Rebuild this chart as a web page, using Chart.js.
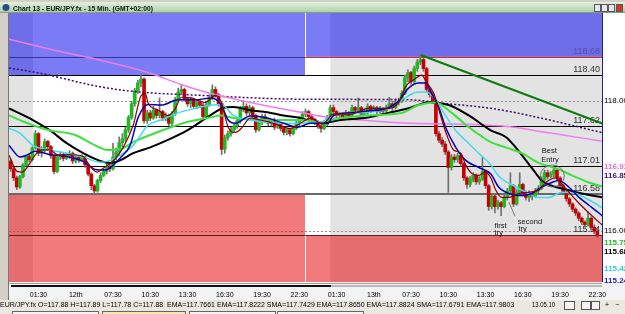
<!DOCTYPE html>
<html>
<head>
<meta charset="utf-8">
<script src="https://cdn.jsdelivr.net/npm/chart.js@4.4.1/dist/chart.umd.min.js"></script>
<style>
  html, body { margin: 0; padding: 0; background: #d4d0c8; }
  canvas { display: block; }
</style>
</head>
<body>
<canvas id="chart" width="625" height="314"></canvas>
<script>
// EUR/JPY.fx 15 min candles, bar 0 = 11th 23:15, bar 189 = 13th 22:30
const opens = [
  117.08,116.96,116.82,116.68,116.84,117.02,117.15,117.10,117.28,117.50,
  117.20,117.25,117.38,117.30,117.16,116.92,117.14,117.18,117.12,117.16,
  117.20,117.08,117.14,117.10,117.14,117.02,116.88,116.70,116.62,116.78,
  116.86,116.92,117.00,116.96,117.14,117.22,117.36,117.42,117.56,117.75,
  117.96,118.16,118.28,118.34,117.70,117.82,117.74,117.86,117.78,117.84,
  117.74,117.78,117.66,117.80,118.02,118.14,118.18,118.04,117.96,118.02,
  117.92,117.98,117.94,117.76,117.94,118.04,118.18,118.10,117.96,117.26,
  117.44,117.50,117.56,117.62,117.70,117.88,117.92,117.82,117.90,117.78,
  117.56,117.68,117.76,117.72,117.66,117.68,117.60,117.64,117.58,117.52,
  117.56,117.50,117.58,117.66,117.72,117.80,117.84,117.76,117.72,117.68,
  117.62,117.58,117.64,117.74,117.90,117.84,117.78,117.80,117.76,117.82,
  117.78,117.90,117.86,117.90,117.80,117.84,117.92,117.86,117.90,117.84,
  117.88,117.85,117.90,117.96,117.90,117.98,118.00,118.12,118.36,118.44,
  118.30,118.50,118.60,118.64,118.50,118.18,118.10,118.00,117.50,117.40,
  117.34,117.22,116.98,117.14,117.10,117.16,117.04,116.82,116.72,116.80,
  116.86,116.76,116.80,116.92,116.70,116.38,116.54,116.38,116.44,116.38,
  116.52,116.62,116.70,116.42,116.60,116.72,116.58,116.52,116.58,116.54,
  116.62,116.66,116.80,116.90,116.84,116.88,116.94,116.82,116.70,116.60,
  116.50,116.42,116.34,116.28,116.20,116.14,116.10,116.20,116.06,116.00
];
const highs = [
  117.12,116.98,116.85,116.86,117.04,117.17,117.18,117.30,117.55,117.52,
  117.30,117.42,117.40,117.32,117.18,117.18,117.22,117.20,117.20,117.24,
  117.22,117.18,117.16,117.18,117.16,117.04,116.90,116.72,116.80,116.90,
  116.96,117.05,117.04,117.35,117.28,117.45,117.50,117.60,117.78,118.00,
  118.20,118.32,118.40,118.36,117.86,117.86,117.92,117.88,118.05,117.86,
  117.82,117.80,117.84,118.06,118.20,118.25,118.20,118.06,118.06,118.04,
  118.02,118.02,117.98,118.00,118.10,118.25,118.22,118.12,117.98,117.48,
  117.54,117.60,117.66,117.74,117.92,118.00,117.96,117.94,117.92,117.80,
  117.70,117.80,117.80,117.74,117.72,117.74,117.68,117.66,117.60,117.58,
  117.58,117.62,117.70,117.76,117.84,117.88,117.86,117.80,117.74,117.70,
  117.64,117.68,117.78,117.94,117.94,117.86,117.82,117.82,117.86,117.84,
  117.94,117.92,118.05,117.92,117.88,117.96,117.94,117.93,117.92,117.92,
  117.90,117.94,118.06,118.00,118.04,118.05,118.16,118.40,118.48,118.46,
  118.54,118.64,118.71,118.66,118.52,118.22,118.14,118.02,117.54,117.44,
  117.38,117.24,117.18,117.18,117.20,117.18,117.06,116.84,116.84,116.90,
  116.88,116.84,117.14,116.94,116.72,116.58,116.58,116.48,116.46,116.56,
  116.66,116.90,116.72,116.64,116.90,116.74,116.62,116.62,116.60,116.66,
  116.70,116.84,116.94,116.94,116.92,116.98,116.96,116.84,116.72,116.62,
  116.52,116.44,116.36,116.30,116.22,116.16,116.30,116.22,116.10,116.04
];
const lows = [
  116.92,116.78,116.64,116.66,116.82,117.00,117.07,117.08,117.26,117.16,
  117.14,117.22,117.24,117.12,116.88,116.90,117.10,117.08,117.10,117.12,
  117.04,117.05,117.06,117.08,116.98,116.85,116.64,116.58,116.60,116.75,
  116.84,116.88,116.92,116.94,117.10,117.18,117.30,117.38,117.52,117.72,
  117.92,118.12,118.22,117.66,117.66,117.70,117.72,117.74,117.74,117.70,
  117.70,117.62,117.60,117.78,118.00,118.10,118.00,117.92,117.90,117.88,
  117.88,117.90,117.72,117.74,117.92,118.02,118.06,117.92,117.18,117.20,
  117.40,117.46,117.52,117.58,117.66,117.84,117.78,117.78,117.74,117.52,
  117.54,117.64,117.68,117.62,117.62,117.56,117.58,117.54,117.48,117.48,
  117.46,117.48,117.56,117.62,117.70,117.76,117.72,117.70,117.64,117.58,
  117.52,117.56,117.62,117.72,117.80,117.74,117.75,117.72,117.74,117.74,
  117.76,117.82,117.84,117.78,117.78,117.80,117.82,117.84,117.80,117.82,
  117.82,117.83,117.88,117.86,117.88,117.94,117.98,118.10,118.30,118.26,
  118.28,118.46,118.56,118.46,118.14,118.06,117.96,117.46,117.36,117.30,
  117.18,116.60,116.94,117.06,117.06,117.00,116.78,116.66,116.68,116.76,
  116.72,116.72,116.78,116.66,116.32,116.34,116.28,116.34,116.24,116.36,
  116.48,116.58,116.38,116.40,116.56,116.54,116.48,116.46,116.48,116.52,
  116.58,116.64,116.78,116.80,116.82,116.84,116.78,116.66,116.56,116.46,
  116.38,116.30,116.24,116.16,116.10,116.06,116.08,116.02,115.96,115.90
];
const closes = [
  116.96,116.82,116.68,116.84,117.02,117.15,117.10,117.28,117.50,117.20,
  117.25,117.38,117.30,117.16,116.92,117.14,117.18,117.12,117.16,117.20,
  117.08,117.14,117.10,117.14,117.02,116.88,116.70,116.62,116.78,116.86,
  116.92,117.00,116.96,117.14,117.22,117.36,117.42,117.56,117.75,117.96,
  118.16,118.28,118.34,117.70,117.82,117.74,117.86,117.78,117.84,117.74,
  117.78,117.66,117.80,118.02,118.14,118.18,118.04,117.96,118.02,117.92,
  117.98,117.94,117.76,117.94,118.04,118.18,118.10,117.96,117.26,117.44,
  117.50,117.56,117.62,117.70,117.88,117.92,117.82,117.90,117.78,117.56,
  117.68,117.76,117.72,117.66,117.68,117.60,117.64,117.58,117.52,117.56,
  117.50,117.58,117.66,117.72,117.80,117.84,117.76,117.72,117.68,117.62,
  117.58,117.64,117.74,117.90,117.84,117.78,117.80,117.76,117.82,117.78,
  117.90,117.86,117.90,117.80,117.84,117.92,117.86,117.90,117.84,117.88,
  117.85,117.90,117.96,117.90,117.98,118.00,118.12,118.36,118.44,118.30,
  118.50,118.60,118.64,118.50,118.18,118.10,118.00,117.50,117.40,117.34,
  117.22,116.98,117.14,117.10,117.16,117.04,116.82,116.72,116.80,116.86,
  116.76,116.80,116.92,116.70,116.38,116.54,116.38,116.44,116.38,116.52,
  116.62,116.70,116.42,116.60,116.72,116.58,116.52,116.58,116.54,116.62,
  116.66,116.80,116.90,116.84,116.88,116.94,116.82,116.70,116.60,116.50,
  116.42,116.34,116.28,116.20,116.14,116.10,116.20,116.06,116.00,115.93
];

// time axis
const tickBars = [9, 21, 33, 45, 57, 69, 81, 93, 105, 117, 129, 141, 153, 165, 177, 189];
const tickLabels = ['01:30', '12th', '07:30', '10:30', '13:30', '16:30', '19:30', '22:30',
                    '01:30', '13th', '07:30', '10:30', '13:30', '16:30', '19:30', '22:30'];
const priceTicks = [118.00, 116.00];

// indicator lines, [bar, price]
const emaBlack = [[-0.5,117.89],[7.2,117.71],[12.7,117.55],[18.2,117.35],[23.4,117.20],[28.9,117.08],[32.1,117.05],[35.3,117.09],[39.5,117.20],[45,117.29],[50.5,117.40],[56.9,117.55],[64.3,117.78],[68.2,117.89],[71.8,117.91],[77.2,117.86],[82.7,117.83],[87.9,117.78],[93.4,117.74],[99.8,117.66],[106.3,117.71],[115,117.75],[121.8,117.82],[128.2,117.89],[134.7,117.98],[141.1,117.94],[147.6,117.78],[154.7,117.55],[159.5,117.45],[162.7,117.29],[166,117.09],[169.2,116.89],[171.1,116.78],[175.6,116.68],[179.8,116.63],[184,116.58],[191,116.52]];
const emaGreen = [[-0.5,117.78],[7.2,117.63],[12.7,117.55],[20.8,117.48],[26,117.35],[31.4,117.25],[35.3,117.26],[39.5,117.37],[45,117.48],[50.5,117.58],[56.9,117.68],[64.3,117.75],[67.6,117.78],[71.8,117.74],[82.7,117.71],[93.4,117.71],[99.8,117.68],[106.3,117.74],[115,117.78],[126,117.82],[131.4,117.94],[136.9,117.98],[142.1,117.82],[147.6,117.60],[154.7,117.37],[159.5,117.29],[164.7,117.20],[170.1,117.05],[175.6,116.97],[180.8,116.86],[186.3,116.75],[191,116.68]];
const emaCyan = [[-0.5,117.58],[3,117.51],[7.2,117.32],[12.7,117.25],[18.2,117.20],[23.4,117.14],[28.9,117.06],[32.1,117.09],[35.3,117.17],[39.5,117.32],[44.3,117.63],[48.5,117.71],[54,117.82],[59.5,117.89],[64.7,117.94],[67.9,117.95],[71.8,117.78],[77.2,117.71],[87.9,117.66],[99.8,117.68],[104,117.78],[115,117.83],[121.8,117.89],[126,118.02],[131.4,118.14],[134,118.14],[136.9,118.02],[140.1,117.78],[143.4,117.55],[147.6,117.35],[150.8,117.20],[154.7,117.02],[157.2,116.85],[162.7,116.68],[166,116.60],[170.1,116.52],[173.4,116.52],[177.6,116.60],[182.1,116.58],[186.3,116.48],[191,116.35]];
const emaBlue = [[-0.5,117.32],[3.1,117.14],[5.3,117.17],[7.9,117.23],[12.7,117.18],[18.2,117.15],[24,117.06],[27.2,116.95],[30.5,116.94],[32.7,117.0],[35.6,117.14],[38.5,117.32],[41.1,117.75],[44.3,117.95],[48.5,117.94],[54,118.02],[59.5,118.02],[64.7,118.05],[67.9,117.94],[70.1,117.71],[72.4,117.66],[77.2,117.77],[82.7,117.74],[87.9,117.66],[92.4,117.60],[96.6,117.66],[102.1,117.66],[104,117.78],[109.5,117.82],[115,117.85],[121.4,117.89],[125,118.0],[128.2,118.20],[131.4,118.28],[133.7,118.28],[135.6,118.12],[137.9,117.91],[140.1,117.60],[143.4,117.29],[146.6,117.09],[150.8,116.98],[154.7,116.88],[157.2,116.68],[160.5,116.58],[164.7,116.55],[167.9,116.58],[171.1,116.68],[174.3,116.75],[176.6,116.78],[179.8,116.68],[183.1,116.52],[186.3,116.40],[189.5,116.28],[191,116.22]];
const emaRed = [[-0.5,117.17],[2.1,116.92],[3.7,116.91],[5.6,117.00],[7.9,117.17],[10.1,117.25],[12.7,117.25],[15.3,117.17],[18.2,117.18],[23.4,117.15],[25.6,117.0],[27.9,116.91],[29.8,116.97],[33.1,117.08],[36.3,117.29],[39.5,117.63],[42.1,118.09],[43.4,118.12],[44.3,117.97],[47.6,117.86],[50.8,117.78],[53.1,117.89],[55,118.06],[58.2,118.05],[62.7,117.98],[66,118.09],[67.9,117.98],[70.1,117.60],[72.4,117.52],[74.3,117.58],[77.2,117.74],[80.5,117.71],[85.3,117.65],[90.1,117.58],[93.4,117.66],[96.6,117.74],[100.5,117.65],[104,117.80],[109.5,117.80],[115.3,117.89],[121.8,117.89],[125,117.98],[127.2,118.22],[130.5,118.35],[132.4,118.40],[134,118.29],[136.3,118.12],[138.5,117.78],[140.5,117.48],[142.7,117.25],[145,117.20],[146.6,117.02],[148.5,116.89],[150.8,116.86],[153,116.91],[154.7,116.82],[156.3,116.63],[158.2,116.52],[160.5,116.52],[163.7,116.58],[166.9,116.60],[170.1,116.63],[172.4,116.75],[175.6,116.82],[177.2,116.75],[179.8,116.60],[183.1,116.43],[186.3,116.28],[189.5,116.14],[191,116.08]];
const smaPink = [[-0.5,118.95],[18.2,118.74],[28.9,118.63],[45,118.43],[54.7,118.26],[64.3,118.12],[77.2,117.98],[93.4,117.83],[102.1,117.75],[112.7,117.71],[128.9,117.66],[141.8,117.65],[157.9,117.62],[174,117.51],[191,117.38]];
const smaPurple = [[-0.5,118.51],[9.5,118.43],[28.9,118.22],[41.8,118.14],[61.1,118.09],[93.4,118.03],[128.9,118.02],[138.5,117.97],[154.7,117.89],[170.8,117.74],[191,117.51]];
const trendLine = [[132.1,118.71],[191,117.65]];

// support / resistance levels and zones
const levels = [118.68, 118.40, 117.62, 117.01, 116.58, 115.94];
const dashedLevels = [118.00, 116.00];
const zoneSplit = 94.8;          // bar where the zone boxes change
const shadeLeftEnd = 7.25;       // grey session shading
const shadeRightStart = 103;
const blueFloor = [118.40, 118.68];
const redCeil = [116.58, 115.94];

// last-value marks on the price axis
const axisMarks = [116.91, 116.85, 115.75, 115.68, 115.42, 115.24];
const axisMarkColors = ['#e070e0', '#3a1070', '#22c022', '#000000', '#22d0e8', '#2020c8'];
const axisMarkShift = [-5, 0, -5, 0, 0, 0];

const infoText = 'EUR/JPY.fx O=117.88 H=117.89 L=117.78 C=117.88  EMA=117.7661 EMA=117.8222 SMA=117.7429 EMA=117.8650 EMA=117.8824 SMA=117.6791 EMA=117.9803';

const FONT = "'Liberation Sans Narrow', 'Liberation Sans', Arial, sans-serif";
const bars = closes.map((c, i) => i);
const isUp = bars.map(i => closes[i] >= opens[i]);

function lineSet(points, color, width, order, dash) {
  return {
    type: 'line',
    data: points.map(p => ({ x: p[0], y: p[1] })),
    borderColor: color,
    borderWidth: width,
    borderDash: dash || [],
    pointRadius: 0,
    fill: false,
    cubicInterpolationMode: 'monotone',
    order: order
  };
}

const decor = {
  id: 'decor',
  beforeDraw(chart) {
    const { ctx, chartArea: a, scales: { x, y } } = chart;
    ctx.save();
    ctx.fillStyle = '#d4d0c8';
    ctx.fillRect(0, 0, 625, 314);
    // title bar
    const g = ctx.createLinearGradient(0, 2, 0, 13);
    g.addColorStop(0, '#e2f1de');
    g.addColorStop(1, '#a8cea2');
    ctx.fillStyle = g;
    ctx.fillRect(0, 2, 625, 11);
    ctx.strokeStyle = '#7fa07a';
    ctx.beginPath(); ctx.moveTo(0, 12.5); ctx.lineTo(625, 12.5); ctx.stroke();
    ctx.fillStyle = '#2a4a8a';
    ctx.beginPath(); ctx.arc(6, 7.5, 3.5, 0, Math.PI * 2); ctx.fill();
    ctx.fillStyle = '#0a1a0a';
    ctx.font = "bold 8px 'Liberation Sans', Arial";
    ctx.textBaseline = 'alphabetic';
    ctx.fillText('Chart 13 - EUR/JPY.fx - 15 Min. (GMT+02:00)', 13, 10.5, 140);
    [[594, '#e8e8e8'], [601, '#e8e8e8'], [608, '#e8e8e8'], [616, '#e03020']].forEach(b => {
      ctx.fillStyle = b[1];
      ctx.fillRect(b[0], 4, 6, 7);
      ctx.strokeStyle = '#556';
      ctx.strokeRect(b[0] + 0.5, 4.5, 6, 7);
    });
    // axis backgrounds
    ctx.fillStyle = '#ffffff';
    ctx.fillRect(a.right, a.top, 625 - a.right, a.bottom - a.top);
    ctx.fillStyle = '#f3f3f3';
    ctx.fillRect(a.left, a.bottom, 625 - a.left, 314 - a.bottom);
    ctx.fillStyle = '#ebe8e0';
    ctx.fillRect(0, 300, 625, 14);
    // plot background and session shading
    ctx.fillStyle = '#ffffff';
    ctx.fillRect(a.left, a.top, a.width, a.height);
    ctx.fillStyle = '#e3e3e3';
    const xl = x.getPixelForValue(shadeLeftEnd), xr = x.getPixelForValue(shadeRightStart);
    ctx.fillRect(a.left, a.top, xl - a.left, a.height);
    ctx.fillRect(xr, a.top, a.right - xr, a.height);
    // dashed price lines
    ctx.strokeStyle = '#8c8c8c';
    ctx.lineWidth = 1;
    ctx.setLineDash([2, 2]);
    dashedLevels.forEach(p => {
      const py = Math.round(y.getPixelForValue(p)) + 0.5;
      ctx.beginPath(); ctx.moveTo(a.left, py); ctx.lineTo(a.right, py); ctx.stroke();
    });
    ctx.setLineDash([]);
    // zones
    const xs = Math.round(x.getPixelForValue(zoneSplit));
    ctx.fillStyle = 'rgba(15,15,237,0.55)';
    const b0 = y.getPixelForValue(blueFloor[0]), b1 = y.getPixelForValue(blueFloor[1]);
    ctx.fillRect(a.left, a.top, xs - a.left, b0 - a.top);
    ctx.fillRect(xs + 1, a.top, a.right - xs - 1, b1 - a.top);
    ctx.fillStyle = 'rgba(231,13,13,0.55)';
    const r0 = y.getPixelForValue(redCeil[0]), r1 = y.getPixelForValue(redCeil[1]);
    ctx.fillRect(a.left, r0, xs - a.left, a.bottom - r0);
    ctx.fillRect(xs + 1, r1, a.right - xs - 1, a.bottom - r1);
    // level lines
    const ly = p => Math.round(y.getPixelForValue(p)) + 0.5;
    ctx.lineWidth = 1;
    ctx.strokeStyle = '#34349a';
    ctx.beginPath(); ctx.moveTo(a.left, ly(levels[0])); ctx.lineTo(xs, ly(levels[0])); ctx.stroke();
    ctx.strokeStyle = '#e02828';
    ctx.beginPath(); ctx.moveTo(xs, ly(levels[0])); ctx.lineTo(a.right, ly(levels[0])); ctx.stroke();
    ctx.strokeStyle = '#000000';
    [levels[1], levels[2], levels[3]].forEach(p => {
      ctx.beginPath(); ctx.moveTo(a.left, ly(p)); ctx.lineTo(a.right, ly(p)); ctx.stroke();
    });
    ctx.strokeStyle = '#6a6a6a';
    ctx.lineWidth = 2;
    ctx.beginPath(); ctx.moveTo(a.left, ly(levels[4]) - 0.5); ctx.lineTo(a.right, ly(levels[4]) - 0.5); ctx.stroke();
    ctx.lineWidth = 1;
    ctx.strokeStyle = '#5a2020';
    ctx.beginPath(); ctx.moveTo(a.left, ly(levels[5])); ctx.lineTo(a.right, ly(levels[5])); ctx.stroke();
    // level labels
    ctx.font = '9px ' + FONT;
    ctx.textAlign = 'right';
    ctx.textBaseline = 'bottom';
    levels.forEach((p, k) => {
      ctx.fillStyle = k === 0 ? '#5a4aa8' : '#303030';
      ctx.fillText(p.toFixed(2), a.right - 2, ly(p) - 1);
    });
    ctx.restore();
  },
  afterDatasetsDraw(chart) {
    const { ctx, scales: { x, y } } = chart;
    ctx.save();
    ctx.fillStyle = '#111111';
    ctx.font = "7.5px 'Liberation Sans', Arial";
    ctx.textAlign = 'left';
    ctx.textBaseline = 'alphabetic';
    const notes = [['Best', 171.1, 117.20], ['Entry', 170.9, 117.06],
                   ['first', 155.9, 116.05], ['try', 155.9, 115.94],
                   ['second', 163.4, 116.11], ['try', 163.6, 116.01]];
    notes.forEach(n => ctx.fillText(n[0], x.getPixelForValue(n[1]), y.getPixelForValue(n[2])));
    ctx.strokeStyle = '#555555';
    ctx.lineWidth = 0.8;
    ctx.beginPath();
    ctx.ellipse(x.getPixelForValue(174.5), y.getPixelForValue(116.85), 12, 11, 0, 0, Math.PI * 2);
    ctx.stroke();
    ctx.beginPath();
    ctx.moveTo(x.getPixelForValue(162.5), y.getPixelForValue(116.23));
    ctx.lineTo(x.getPixelForValue(160.5), y.getPixelForValue(116.45));
    ctx.stroke();
    ctx.restore();
  },
  afterDraw(chart) {
    const { ctx, chartArea: a, scales: { y } } = chart;
    ctx.save();
    // price axis border
    ctx.strokeStyle = '#22227a';
    ctx.lineWidth = 1;
    ctx.beginPath(); ctx.moveTo(a.right + 0.5, a.top); ctx.lineTo(a.right + 0.5, a.bottom); ctx.stroke();
    ctx.strokeStyle = '#777777';
    ctx.beginPath(); ctx.moveTo(a.left - 0.5, a.top); ctx.lineTo(a.left - 0.5, 300); ctx.stroke();
    // last-value marks
    ctx.font = 'bold 8px ' + FONT;
    ctx.textAlign = 'left';
    ctx.textBaseline = 'middle';
    axisMarks.forEach((p, k) => {
      ctx.fillStyle = axisMarkColors[k];
      ctx.fillText(p.toFixed(2), a.right + 2, y.getPixelForValue(p) + axisMarkShift[k]);
    });
    // time bar under the plot
    ctx.strokeStyle = '#a0a0a0';
    ctx.beginPath(); ctx.moveTo(a.left, a.bottom + 1.5); ctx.lineTo(a.right, a.bottom + 1.5); ctx.stroke();
    ctx.lineWidth = 2;
    ctx.strokeStyle = '#111111';
    ctx.beginPath(); ctx.moveTo(a.left + 2, a.bottom + 4); ctx.lineTo(331, a.bottom + 4); ctx.stroke();
    ctx.strokeStyle = '#b8b8b8';
    ctx.beginPath(); ctx.moveTo(331, a.bottom + 4); ctx.lineTo(a.right, a.bottom + 4); ctx.stroke();
    // info row
    ctx.lineWidth = 1;
    ctx.fillStyle = '#000000';
    ctx.font = '7px ' + FONT;
    ctx.textBaseline = 'alphabetic';
    ctx.fillText(infoText, 0, 307, 518);
    ctx.fillText('13.05.10', 532, 307, 23);
    [[564, 10], [581, 9], [591, 8]].forEach(b => {
      ctx.fillStyle = '#f4f4f4';
      ctx.fillRect(b[0], 301, b[1], 8);
      ctx.strokeStyle = '#555555';
      ctx.strokeRect(b[0] + 0.5, 301.5, b[1], 8);
    });
    ctx.fillStyle = '#000000';
    ctx.fillText('+', 605, 307);
    ctx.fillText('\u2212', 615, 307);
    // tabs
    [[12, 86, '#f4f4f4'], [102, 83, '#f3e6b0'], [189, 86, '#f4f4f4'], [277, 86, '#f4f4f4']].forEach(t => {
      ctx.fillStyle = t[2];
      ctx.fillRect(t[0], 311, t[1], 4);
      ctx.strokeStyle = '#666666';
      ctx.strokeRect(t[0] + 0.5, 311.5, t[1], 4);
    });
    ctx.restore();
  }
};

new Chart(document.getElementById('chart'), {
  type: 'bar',
  data: {
    datasets: [
      lineSet(trendLine, '#0e7a0e', 2, 1),
      lineSet(emaRed, '#8a0000', 1.2, 2),
      lineSet(emaBlue, '#0000b8', 1.5, 3),
      lineSet(emaCyan, '#3fdcef', 1.5, 4),
      lineSet(emaGreen, '#3ee03e', 2, 5),
      lineSet(emaBlack, '#000000', 2, 6),
      lineSet(smaPink, '#f07cf0', 1.5, 7),
      lineSet(smaPurple, '#3a0a6a', 1.5, 8, [2, 2]),
      {
        type: 'bar',
        data: bars.map(i => ({ x: i, y: [opens[i], closes[i]] })),
        backgroundColor: isUp.map(u => u ? '#1fba1f' : '#c80000'),
        borderWidth: 0,
        barThickness: 3,
        grouped: false,
        order: 9
      },
      {
        type: 'bar',
        data: bars.map(i => ({ x: i, y: [lows[i], highs[i]] })),
        backgroundColor: '#707070',
        borderWidth: 0,
        barThickness: 1,
        grouped: false,
        order: 10
      }
    ]
  },
  options: {
    responsive: false,
    animation: false,
    devicePixelRatio: 1,
    events: [],
    layout: { padding: { left: 9, top: 13, right: 0, bottom: 14 } },
    plugins: { legend: { display: false }, tooltip: { enabled: false } },
    scales: {
      x: {
        type: 'linear',
        min: -0.5,
        max: 190.5,
        offset: false,
        grid: { display: false, drawTicks: false },
        border: { display: false },
        afterBuildTicks: s => { s.ticks = tickBars.map(v => ({ value: v })); },
        afterFit: s => { s.height = 18; },
        ticks: {
          autoSkip: false,
          maxRotation: 0,
          padding: 9,
          color: '#000000',
          font: { family: FONT, size: 7 },
          callback: (v, i) => tickLabels[i]
        }
      },
      y: {
        position: 'right',
        min: 115.22,
        max: 119.355,
        grid: { display: false, drawTicks: false },
        border: { display: false },
        afterBuildTicks: s => { s.ticks = priceTicks.map(v => ({ value: v })); },
        afterFit: s => { s.width = 23; },
        ticks: {
          padding: 2,
          color: '#000000',
          font: { family: FONT, size: 8 },
          callback: v => v.toFixed(2)
        }
      }
    }
  },
  plugins: [decor]
});
</script>
</body>
</html>
